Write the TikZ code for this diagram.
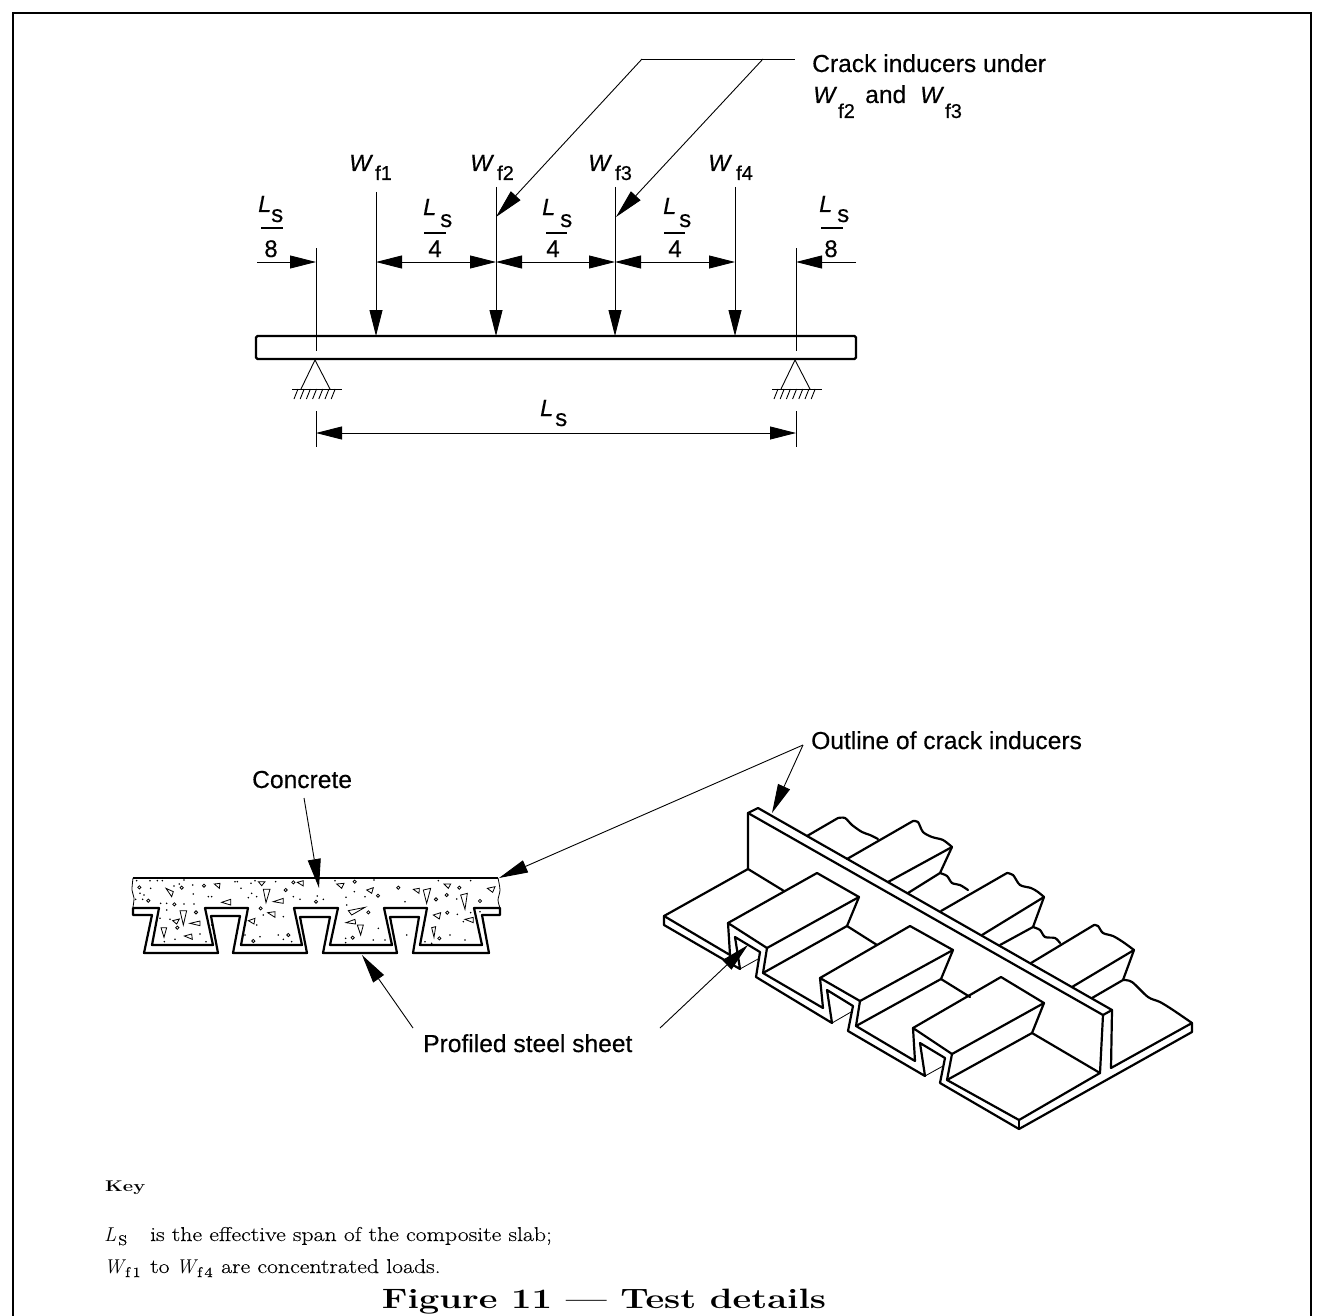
\documentclass[tikz,border=0pt]{standalone}
\usepackage{fontspec}
\newfontfamily\hv[FakeBold=0.35]{Liberation Sans}
\newfontfamily\lmk[FakeStretch=1.19,FakeBold=0.25]{Latin Modern Roman}
\newfontfamily\lmb{Latin Modern Roman}
\newfontfamily\lmc[FakeStretch=1.3]{Latin Modern Roman}
\usetikzlibrary{arrows.meta}
\newcommand{\fs}[1]{\fontsize{#1}{#1}\selectfont}
\tikzset{
  thinline/.style={line width=0.9pt,line cap=butt},
  heavy/.style={line width=2.2pt,line join=round,line cap=round},
  beamline/.style={line width=2.4pt,line join=round},
  dimtip/.tip={Triangle[length=26pt,width=13pt]},
  leadtip/.tip={Triangle[length=29pt,width=13pt]},
  sans/.style={anchor=base west,inner sep=0pt,font=\hv\fs{24.6}},
  big/.style={sans,font=\hv\itshape\fs{23.5}},
  sub/.style={sans,font=\hv\fs{20}},
  ssub/.style={sans,font=\hv\fs{24}},
  serif/.style={anchor=base west,inner sep=0pt,font=\lmk\fs{20}},
  keyital/.style={anchor=base west,inner sep=0pt,font=\lmb\itshape\fs{20}},
  grain/.style={line width=0.8pt},
}
% symbol with a subscript: name, letter, x, y, subscript, sub x, sub y, sub style
\newcommand{\symb}[8]{%
  \node[big] (#1) at (#3,#4) {#2};
  \node[#8] (#1sub) at (#6,#7) {#5};}
\begin{document}
\begin{tikzpicture}[x=1pt,y=-1pt]
\useasboundingbox (0,0) rectangle (1317,1316);
\fill[white] (0,0) rectangle (1317,1316);
% frame
\coordinate (fa) at (12.5,1316); \coordinate (fb) at (12.5,13); \coordinate (fc) at (1311,13); \coordinate (fd) at (1311,1316);
\draw[line width=2pt] (fa) -- (fb) -- (fc) -- (fd);

% ---------- beam ----------
\draw[beamline,rounded corners=1.5pt] (256,336) rectangle (856,359);
% load lines
\foreach \n/\x/\t in {1/376/192,2/496/187,3/615/187,4/735/187}{
  \coordinate (load\n top) at (\x,\t);
  \coordinate (load\n end) at (\x,336);
  \coordinate (load\n dim) at (\x,262);
  \draw[thinline,-{dimtip}] (load\n top) -- (load\n end);
}
% support verticals
\foreach \n/\x in {L/316,R/796}{
  \coordinate (sup\n top) at (\x,248);
  \coordinate (sup\n bot) at (\x,351);
  \coordinate (sup\n dim) at (\x,262);
  \coordinate (span\n top) at (\x,411);
  \coordinate (span\n bot) at (\x,447);
  \coordinate (span\n mid) at (\x,433);
  \draw[thinline] (sup\n top) -- (sup\n bot);
  \draw[thinline] (span\n top) -- (span\n bot);
  % pin support
  \draw[line width=0.9pt,line join=round] (\x-15,389) -- (\x-1,360) -- (\x+14,389);
  \draw[line width=0.9pt] (\x-24,389) -- (\x+26,389);
  \foreach \k in {0,...,6}{
    \draw[line width=0.9pt] (\x-18+\k*6.2,389) -- (\x-22+\k*6.2,399);
  }
}
% dimension lines
\coordinate (dimL) at (257,262);
\coordinate (dimR) at (856,262);
\draw[thinline,-{dimtip}] (dimL) -- (supLdim);
\draw[thinline,-{dimtip}] (dimR) -- (supRdim);
\draw[thinline,{dimtip}-{dimtip}] (load1dim) -- (load2dim);
\draw[thinline,{dimtip}-{dimtip}] (load2dim) -- (load3dim);
\draw[thinline,{dimtip}-{dimtip}] (load3dim) -- (load4dim);
\draw[thinline,{dimtip}-{dimtip}] (spanLmid) -- (spanRmid);

% crack inducer leaders
\coordinate (cra) at (642,59); \coordinate (crb) at (795,59); \coordinate (crc) at (763,59);
\coordinate (cta) at (496,217); \coordinate (ctb) at (616,217);
\draw[thinline] (cra) -- (crb);
\draw[thinline,-{leadtip}] (cra) -- (cta);
\draw[thinline,-{leadtip}] (crc) -- (ctb);

% labels, top
\node[sans] (crack) at (812,72) {Crack inducers under};
\symb{capw2}{W}{813}{103}{f2}{838}{118}{sub}
\node[sans] (capand) at (865,103) {and};
\symb{capw3}{W}{920}{103}{f3}{945}{118}{sub}
\symb{wone}{W}{349}{171}{f1}{375}{180}{sub}
\symb{wtwo}{W}{470}{171}{f2}{497}{180}{sub}
\symb{wthr}{W}{588}{171}{f3}{615}{180}{sub}
\symb{wfou}{W}{708}{171}{f4}{736}{180}{sub}
\symb{lone}{L}{258}{212}{s}{271}{222}{ssub}
\symb{ltwo}{L}{423}{215}{s}{440}{227}{ssub}
\symb{lthr}{L}{542}{215}{s}{560}{227}{ssub}
\symb{lfou}{L}{663}{214}{s}{679}{227}{ssub}
\symb{lfiv}{L}{819}{212}{s}{837}{222}{ssub}
\symb{lspan}{L}{540}{416}{s}{555}{426}{ssub}
\foreach \n/\a/\b/\y/\d/\dx in {a/261/283/228/8/271, b/424/446/233/4/435, c/546/567/233/4/553, d/664/685/233/4/675, e/821/843/228/8/831}{
  \draw[line width=1.8pt] (\a,\y) -- (\b,\y);
  \node[sans,anchor=base,font=\hv\fs{24}] (den\n) at (\dx,257) {\d};
}

% ---------- concrete section ----------
\node[sans] (concrete) at (252,788) {Concrete};
\node[sans] (profiled) at (423,1052) {Profiled steel sheet};
\node[sans] (outline) at (811,749) {Outline of crack inducers};
\coordinate (ctop) at (304,798); \coordinate (ctip) at (319,888);
\draw[thinline,-{leadtip}] (ctop) -- (ctip);
\coordinate (pa) at (413,1028); \coordinate (ptip) at (362,955);
\draw[thinline,-{leadtip}] (pa) -- (ptip);
\coordinate (pb) at (660,1028); \coordinate (ptipb) at (748,945);
\draw[thinline,-{leadtip}] (pb) -- (ptipb);
\coordinate (oa) at (803,745); \coordinate (otipa) at (499,878); \coordinate (otipb) at (772,813);
\draw[thinline,-{leadtip}] (oa) -- (otipa);
\draw[thinline,-{leadtip}] (oa) -- (otipb);

\draw[line width=2.2pt] (133,878) -- (498,878);
\draw[line width=0.8pt] plot[smooth] coordinates {(133,878) (132,890) (134,898) (133,907)};
\draw[line width=0.8pt] plot[smooth] coordinates {(498,878) (500,890) (498,900) (500,908)};
\draw[heavy] (133,908) -- (159,908) -- (152,945) -- (213,945) -- (205,908) -- (248,908) -- (241,945) -- (302,945) -- (294,908) -- (338,908) -- (330,945) -- (392,945) -- (384,908) -- (427,908) -- (420,945) -- (482,945) -- (474,908) -- (500,908) -- (500,915) -- (482,915) -- (489,953) -- (413,953) -- (419,917) -- (390,917) -- (397,953) -- (323,953) -- (330,917) -- (300,917) -- (307,953) -- (233,953) -- (240,916) -- (211,916) -- (218,953) -- (144,953) -- (152,915) -- (133,915) -- cycle;
% aggregate
\begin{scope}[shift={(120,860)},x=0.33333pt,y=-0.33333pt]
\foreach \a/\b/\c/\d/\e/\f in {138/85/160/95/155/110, 283/72/300/70/298/85, 415/65/435/65/425/77, 532/67/550/62/550/78, 650/72/672/70/665/85, 740/90/760/83/755/100, 880/88/898/85/897/100, 910/90/932/85/920/130, 972/72/992/72/985/85, 1102/85/1125/80/1118/97, 430/88/450/88/438/128, 460/125/490/115/490/130, 305/127/332/118/332/135, 1022/105/1042/100/1035/148, 443/158/465/155/465/172, 940/165/962/158/958/177, 1035/178/1060/172/1060/188, 180/152/200/152/190/195, 158/182/178/177/170/192, 210/190/240/183/240/197, 123/203/140/203/132/232, 193/228/215/222/217/238, 385/182/405/175/402/192, 685/152/735/142/695/165, 678/188/705/178/707/192, 712/195/730/195/722/225, 935/203/947/200/942/232}{
  \draw[grain,line join=miter] (\a,\b) -- (\c,\d) -- (\e,\f) -- cycle;
}
\foreach \a/\b in {58/82,185/83,252/77,520/67,704/65,774/107,835/83,948/118,980/105,1018/83,1080/123,85/122,163/133,422/145,497/90,588/125,745/157,982/158,228/157,505/225,400/243,698/233,958/235,172/203}{
  \draw[grain] (\a,\b) circle (1.6pt);
}
\foreach \a/\b in {50/62,90/62,112/62,127/62,192/60,345/65,352/65,405/62,467/65,645/62,762/60,955/62,1052/62,178/72,162/78,92/85,60/100,72/105,47/118,68/118,122/130,218/75,220/102,265/110,275/110,363/85,395/100,385/113,393/70,410/110,520/110,540/118,610/118,592/108,678/112,703/95,735/110,855/125,1010/117,1052/158,1012/163,1030/185,222/132,192/132,140/130,120/175,150/178,140/150,275/195,240/222,165/238,258/245,133/245,375/225,410/195,430/165,490/170,420/230,475/225,490/238,515/245,677/235,677/248,760/240,795/240,775/205,680/135,870/170,860/225,915/245,935/250,990/225,1035/240,1080/155}{
  \fill (\a,\b) circle (0.9pt);
}
\end{scope}

% ---------- isometric view ----------
% profile, upper and lower surface
\draw[heavy] (664,916) -- (730,955) -- (728,923) -- (767,948) -- (763,973) -- (823,1008) -- (820,978) -- (860,1001) -- (856,1026) -- (915,1061) -- (913,1028) -- (952,1054) -- (947,1080) -- (1019,1120) -- (1100,1073) -- (1103,1015) -- (748,813) -- (758,808) -- (1112,1010) -- (1103,1015);
\draw[heavy] (1112,1010) -- (1111,1068) -- (1192,1023) -- (1192,1032) -- (1019,1129) -- (940,1083) -- (945,1058) -- (920,1043) -- (925,1076) -- (848,1031) -- (853,1006) -- (827,990) -- (832,1023) -- (756,977) -- (760,952) -- (735,937) -- (740,969) -- (664,925) -- (664,916);
\draw[heavy] (1019,1120) -- (1019,1129);
% fin and plate behind
\draw[heavy] (748,813) -- (748,869) -- (664,916);
\draw[heavy] (748,869) -- (784,891);
% front ribs
\foreach \lx/\ly/\ax/\ay/\rx/\ry/\fx/\fy/\sx/\sy/\bx/\by/\jx/\jy in {
  728/923/817/873/859/897/767/948/847/926/763/973/877/945,
  820/978/910/926/953/950/860/1001/941/979/856/1026/970/997,
  913/1028/1001/977/1044/1003/952/1054/1032/1033/947/1080/1100/1073}{
  \draw[heavy] (\lx,\ly) -- (\ax,\ay) -- (\rx,\ry) -- (\fx,\fy);
  \draw[heavy] (\rx,\ry) -- (\sx,\sy) -- (\bx,\by);
  \draw[heavy] (\sx,\sy) -- (\jx,\jy);
}
% channel bottoms
\draw[line width=0.8pt] (740,969) -- (758,959);
\draw[line width=0.8pt] (832,1023) -- (851,1012);
\draw[line width=0.8pt] (925,1076) -- (943,1066);
% back ribs, beyond the fin
\draw[heavy] (807,836) -- (838,818) plot[smooth] coordinates {(838,818) (845,818) (852,825) (862,832) (870,835) (878,839)};
\draw[heavy] (847,859) -- (913,821) plot[smooth] coordinates {(913,821) (918,822) (923,832) (932,837) (943,840) (952,847)};
\draw[heavy] (952,847) -- (888,882);
\draw[heavy] (952,847) -- (940,873) -- (908,893);
\draw[heavy] plot[smooth] coordinates {(940,873) (947,876) (952,883) (960,885) (968,890)};
\draw[heavy] (941,911) -- (1007,873) plot[smooth] coordinates {(1007,873) (1013,875) (1020,885) (1031,888) (1038,892) (1044,897)};
\draw[heavy] (1044,897) -- (982,935);
\draw[heavy] (1044,897) -- (1033,927) -- (1000,945);
\draw[heavy] plot[smooth] coordinates {(1033,927) (1040,930) (1045,937) (1055,938) (1060,943)};
\draw[heavy] (1031,963) -- (1094,925) plot[smooth] coordinates {(1094,925) (1098,926) (1103,933) (1113,936) (1123,942) (1134,950)};
\draw[heavy] (1134,950) -- (1072,987);
\draw[heavy] (1134,950) -- (1123,980) -- (1092,998);
\draw[heavy] plot[smooth] coordinates {(1123,980) (1132,982) (1148,997) (1160,1002) (1173,1010) (1192,1023)};

% ---------- key ----------
\node[serif,font=\lmc\bfseries\fs{15.5}] (key) at (105,1191) {Key};
\node[keyital] (keyl) at (104,1241) {L};
\node[serif,font=\lmk\fs{14}] (keyls) at (118,1245) {S};
\node[serif] (keyone) at (150,1241) {is the effective span of the composite slab;};
\node[keyital] (keyw) at (104,1273) {W};
\node[serif,font=\lmk\fs{14}] (keywf) at (125,1277) {f\,1};
\node[serif] (keyto) at (150,1273) {to};
\node[keyital] (keywb) at (176,1273) {W};
\node[serif,font=\lmk\fs{14}] (keywfb) at (197,1277) {f\,4};
\node[serif] (keytwo) at (221,1273) {are concentrated loads.};
\node[anchor=base,inner sep=0pt,font=\lmc\bfseries\fs{28}] (caption) at (604,1308) {Figure 11 — Test details};
\end{tikzpicture}
\end{document}
